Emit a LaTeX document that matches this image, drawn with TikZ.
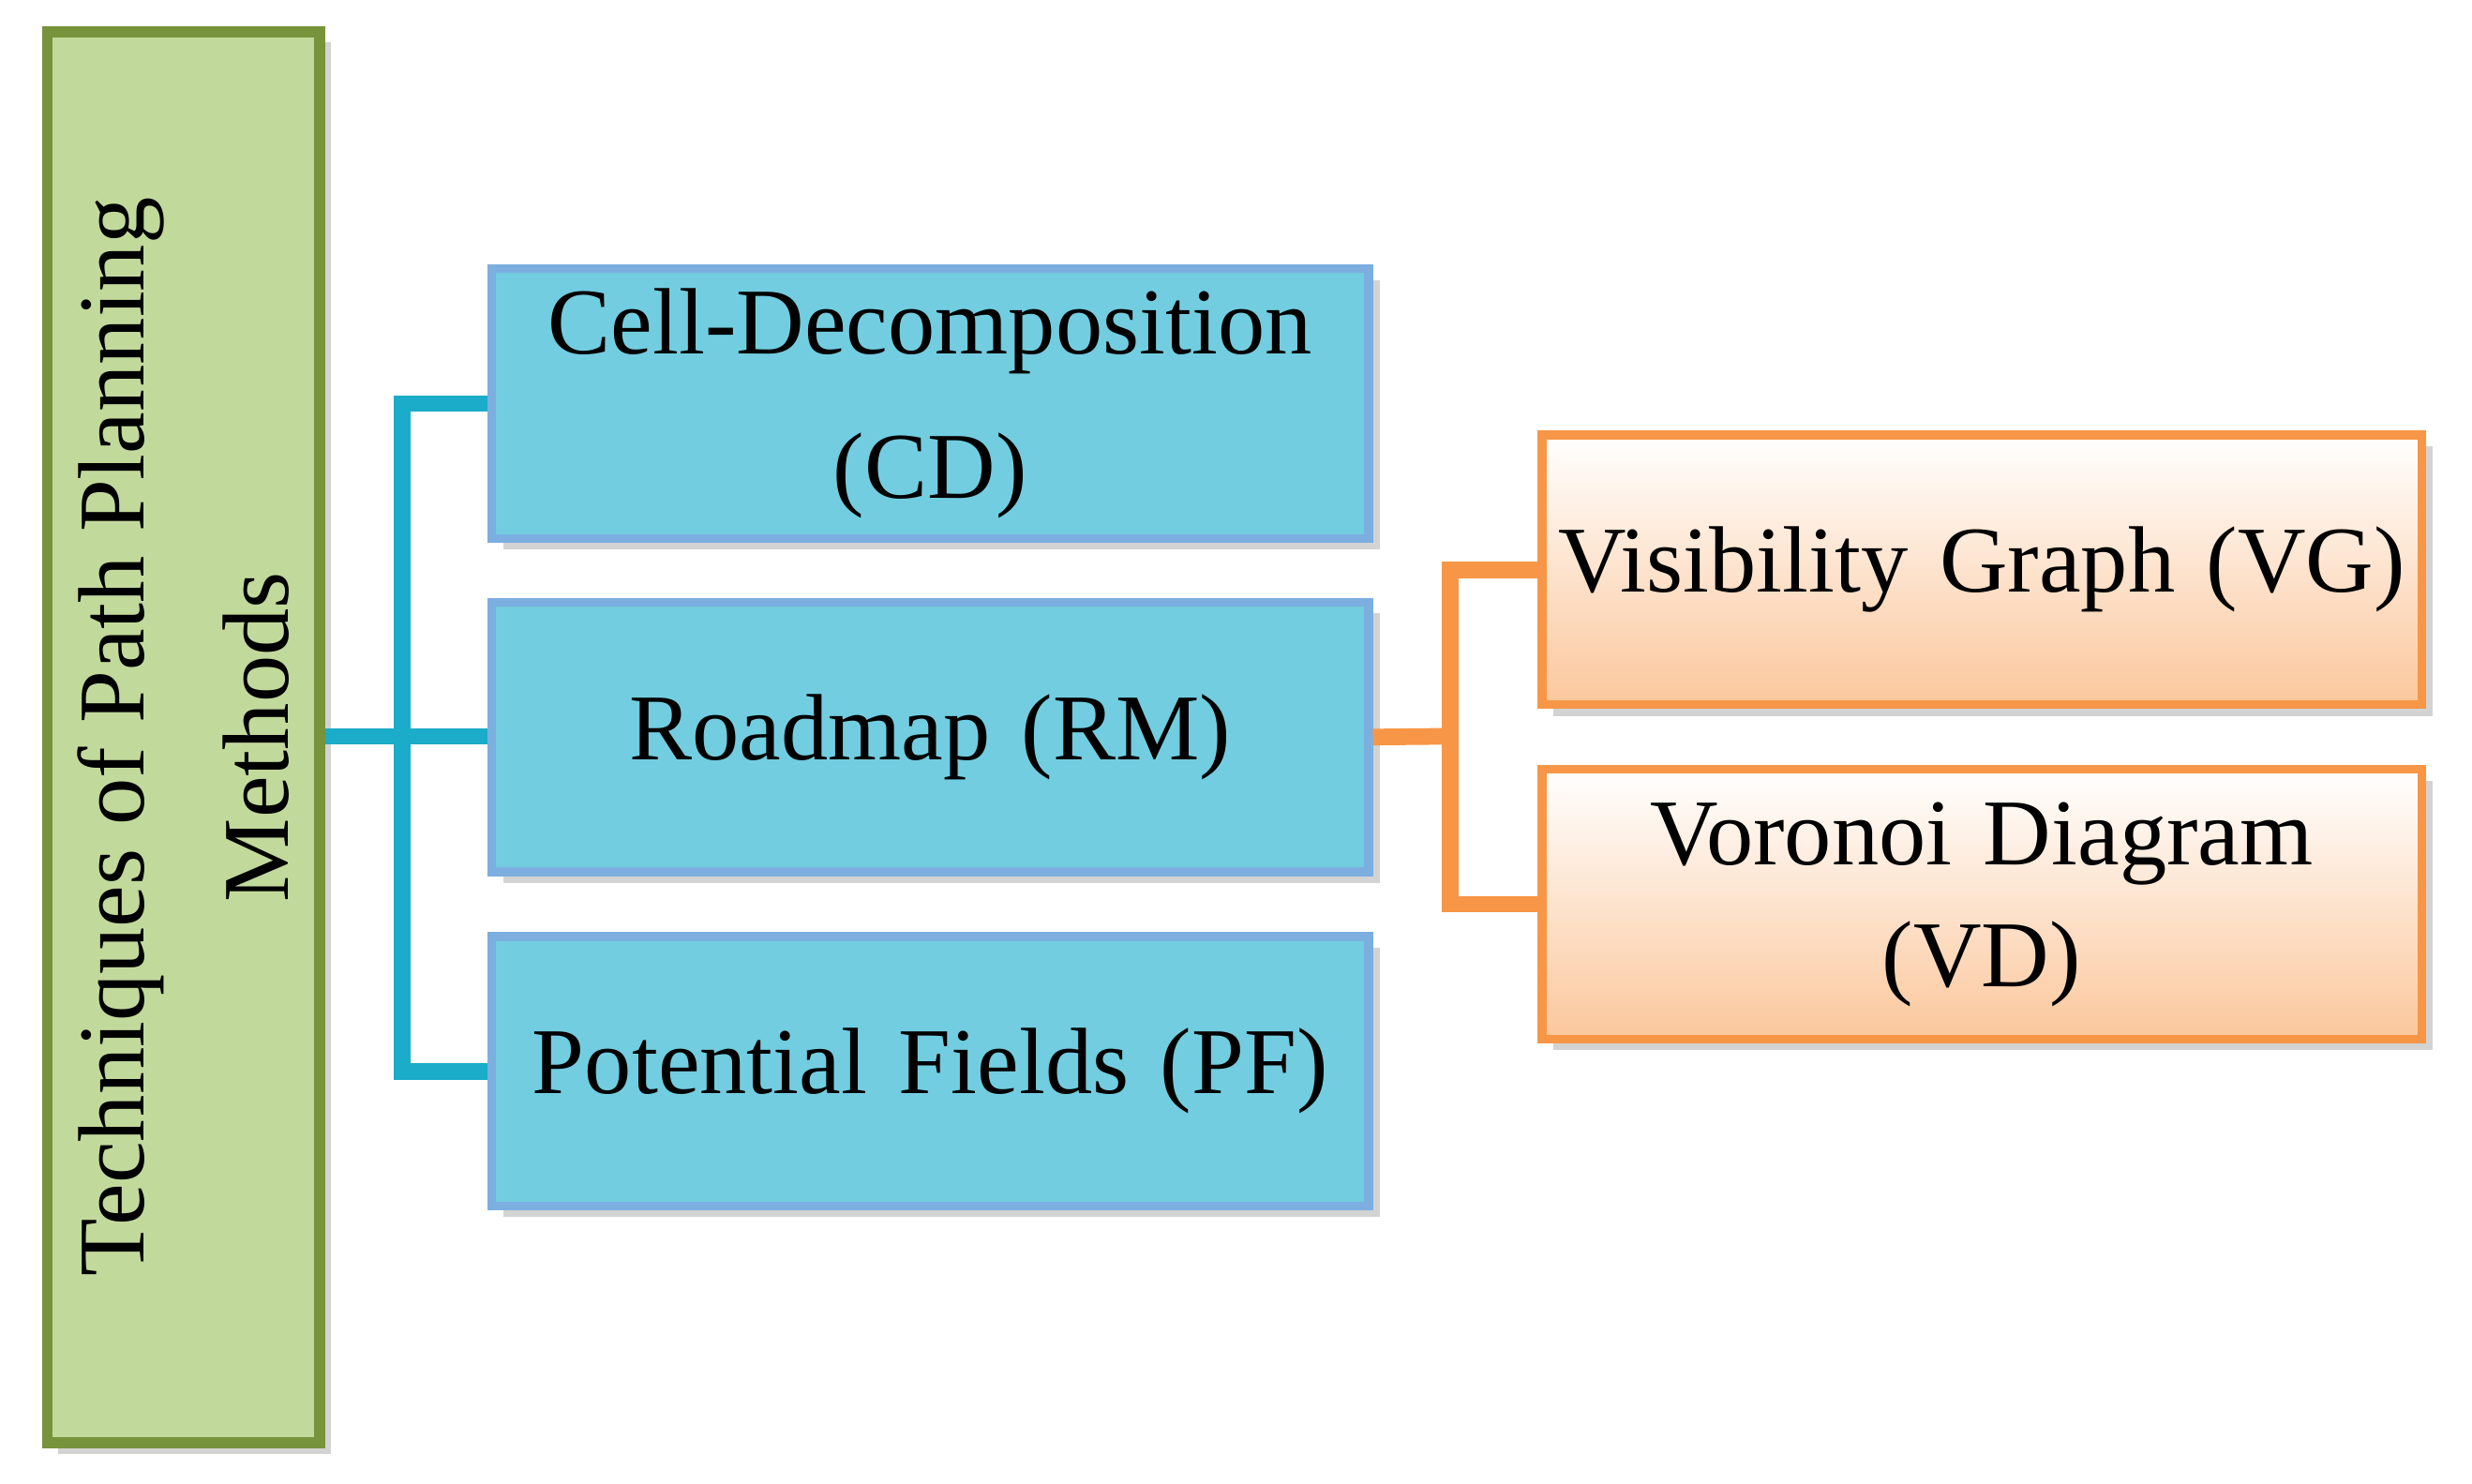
\documentclass[tikz,border=0pt]{standalone}
\usepackage{fontspec}
\setmainfont{Liberation Serif}
\usetikzlibrary{shadows,positioning}
\definecolor{rootfill}{HTML}{C2D99C}
\definecolor{rootline}{HTML}{77933C}
\definecolor{midfill}{HTML}{72CDE0}
\definecolor{midline}{HTML}{7CAEE0}
\definecolor{leaffill}{HTML}{FBC79C}
\definecolor{leafline}{HTML}{F79646}
\definecolor{bluelink}{HTML}{1AACC8}
\tikzset{
  mid/.style={draw=midline, line width=1.6pt, fill=midfill, inner sep=0pt, text width=5.56cm,
    minimum height=1.71cm, align=center, font=\fontsize{17}{26}\selectfont,
    drop shadow={shadow xshift=2pt, shadow yshift=-2pt, opacity=0.35}},
  leaf/.style={draw=leafline, line width=1.6pt, top color=white, bottom color=leaffill, inner sep=0pt,
    text width=5.58cm, minimum height=1.71cm, align=center, font=\fontsize{17}{22}\selectfont,
    drop shadow={shadow xshift=2pt, shadow yshift=-2pt, opacity=0.35}},
  link/.style={line width=3pt}
}
\begin{document}
\begin{tikzpicture}
  \useasboundingbox (0,0) rectangle (15.68,-9.41);
  \node[draw=rootline, line width=2pt, fill=rootfill, minimum width=1.73cm, minimum height=8.95cm,
    drop shadow={shadow xshift=2pt, shadow yshift=-2pt, opacity=0.35}] (root) at (1.165,-4.675) {};
  \node[rotate=90, align=center, font=\fontsize{17}{26}\selectfont] at (root.center)
    {Techniques of Path Planning\\Methods};
  \node[mid] (cd) at (5.90,-2.56) {Cell-Decomposition\\(CD)};
  \node[mid] (rm) at (5.90,-4.675) {Roadmap (RM)};
  \node[mid] (pf) at (5.90,-6.795) {Potential Fields (PF)};
  \node[leaf] (vg) at (12.57,-3.615) {Visibility Graph (VG)};
  \node[leaf] (vd) at (12.57,-5.735) {Voronoi Diagram\\(VD)};
  % connectors
  \coordinate (bus) at (2.55,-4.67);
  \coordinate (fork) at (9.20,-4.67);
  \draw[link, bluelink] (root.east |- bus) -- (rm.west |- bus);
  \draw[link, bluelink] (cd.west) -| (bus) |- (pf.west);
  \draw[link, leafline] (rm.east) -- (fork);
  \draw[link, leafline] (vg.west) -| (fork) |- (vd.west);
\end{tikzpicture}
\end{document}
